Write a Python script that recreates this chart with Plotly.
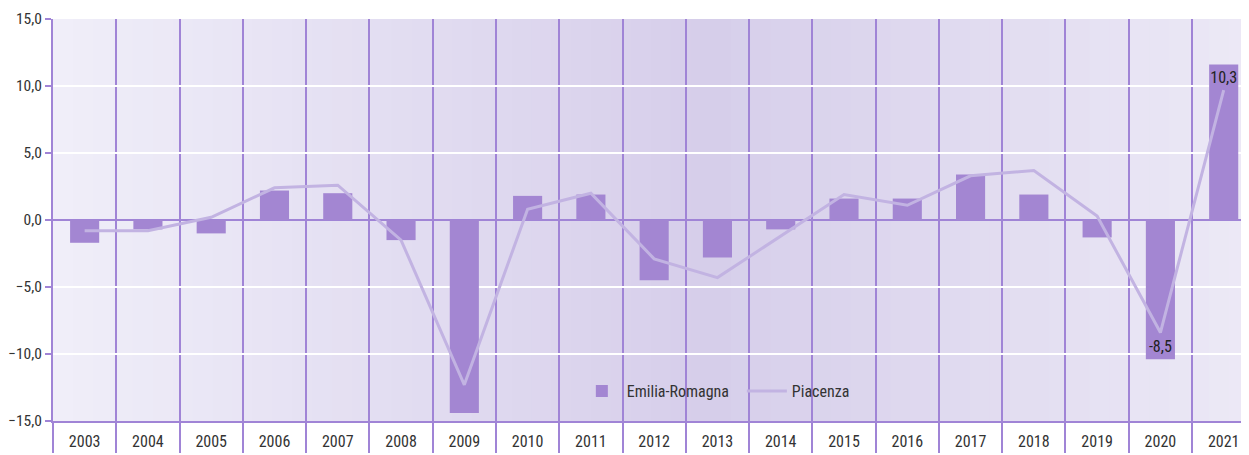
import plotly.graph_objects as go

years = ["2003", "2004", "2005", "2006", "2007", "2008", "2009", "2010", "2011", "2012",
         "2013", "2014", "2015", "2016", "2017", "2018", "2019", "2020", "2021"]
emilia_romagna = [-1.7, -0.7, -1.0, 2.2, 2.0, -1.5, -14.4, 1.8, 1.9, -4.5,
                  -2.8, -0.7, 1.6, 1.6, 3.4, 1.9, -1.3, -10.4, 11.6]
piacenza = [-0.8, -0.8, 0.2, 2.4, 2.6, -1.5, -12.3, 0.8, 2.0, -2.9,
            -4.3, -1.2, 1.9, 1.1, 3.3, 3.7, 0.3, -8.4, 9.7]
bar_labels = ["", "", "", "", "", "", "", "", "", "",
              "", "", "", "", "", "", "", "-8,5", "10,3"]
y_ticks = [-15, -10, -5, 0, 5, 10, 15]

FONT = "Roboto Condensed, Liberation Sans Narrow, DejaVu Sans Condensed, sans-serif"
PURPLE = "#a084d6"
BAR = "#a386d2"
LINE = "#c2b3e2"

fig = go.Figure()
fig.add_trace(go.Bar(
    x=years, y=emilia_romagna, name="Emilia-Romagna",
    marker=dict(color=BAR, line=dict(width=0)), width=0.46,
    text=bar_labels, textposition="inside", insidetextanchor="end",
    constraintext="none", textangle=0,
    textfont=dict(color="#222222", size=16, family=FONT),
))
fig.add_trace(go.Scatter(
    x=years, y=piacenza, name="Piacenza", mode="lines",
    line=dict(color=LINE, width=3),
))

# background gradient (light -> darker middle -> light)
def lerp(c1, c2, t):
    return tuple(round(a + (b - a) * t) for a, b in zip(c1, c2))

left_c = (240, 238, 249)
mid_c = (214, 206, 234)
right_c = (236, 233, 246)
N = 60
shapes = []
for i in range(N):
    t = (i + 0.5) / N
    if t < 0.55:
        c = lerp(left_c, mid_c, t / 0.55)
    else:
        c = lerp(mid_c, right_c, (t - 0.55) / 0.45)
    shapes.append(dict(type="rect", xref="paper", yref="paper",
                       x0=i / N, x1=(i + 1) / N + 0.002, y0=0, y1=1,
                       fillcolor="rgb(%d,%d,%d)" % c, line=dict(width=0),
                       layer="below"))

fig.update_layout(
    width=1241, height=447,
    margin=dict(l=45, r=0, t=11, b=34, autoexpand=False),
    paper_bgcolor="white", plot_bgcolor="#e3def1",
    separators=",.",
    font=dict(family=FONT, size=16, color="#333333"),
    shapes=shapes,
    showlegend=True,
    legend=dict(orientation="h", x=0.438, y=0.0746, xanchor="left", yanchor="middle",
                bgcolor="rgba(0,0,0,0)", font=dict(size=16, color="#333333", family=FONT),
                itemwidth=40, entrywidth=110, entrywidthmode="pixels", traceorder="normal"),
    xaxis=dict(
        type="category", range=[-0.5, 18.4], automargin=False,
        tickson="boundaries", ticks="outside", ticklen=30, tickcolor=PURPLE, tickwidth=2,
        ticklabelstandoff=5,
        showgrid=True, gridcolor=PURPLE, gridwidth=1.5,
        showline=True, linecolor=PURPLE, linewidth=1.5,
        tickfont=dict(size=16, color="#333333", family=FONT),
        fixedrange=True,
    ),
    yaxis=dict(
        range=[-15, 15], tickvals=y_ticks, tickformat=".1f", automargin=False,
        ticks="outside", ticklen=6, tickcolor=PURPLE, tickwidth=2,
        showgrid=True, gridcolor="white", gridwidth=1.5,
        zeroline=True, zerolinecolor=PURPLE, zerolinewidth=1.5,
        showline=True, linecolor=PURPLE, linewidth=2,
        tickfont=dict(size=15.5, color="#333333", family=FONT),
        fixedrange=True,
    ),
)

fig.write_html("out.html")
